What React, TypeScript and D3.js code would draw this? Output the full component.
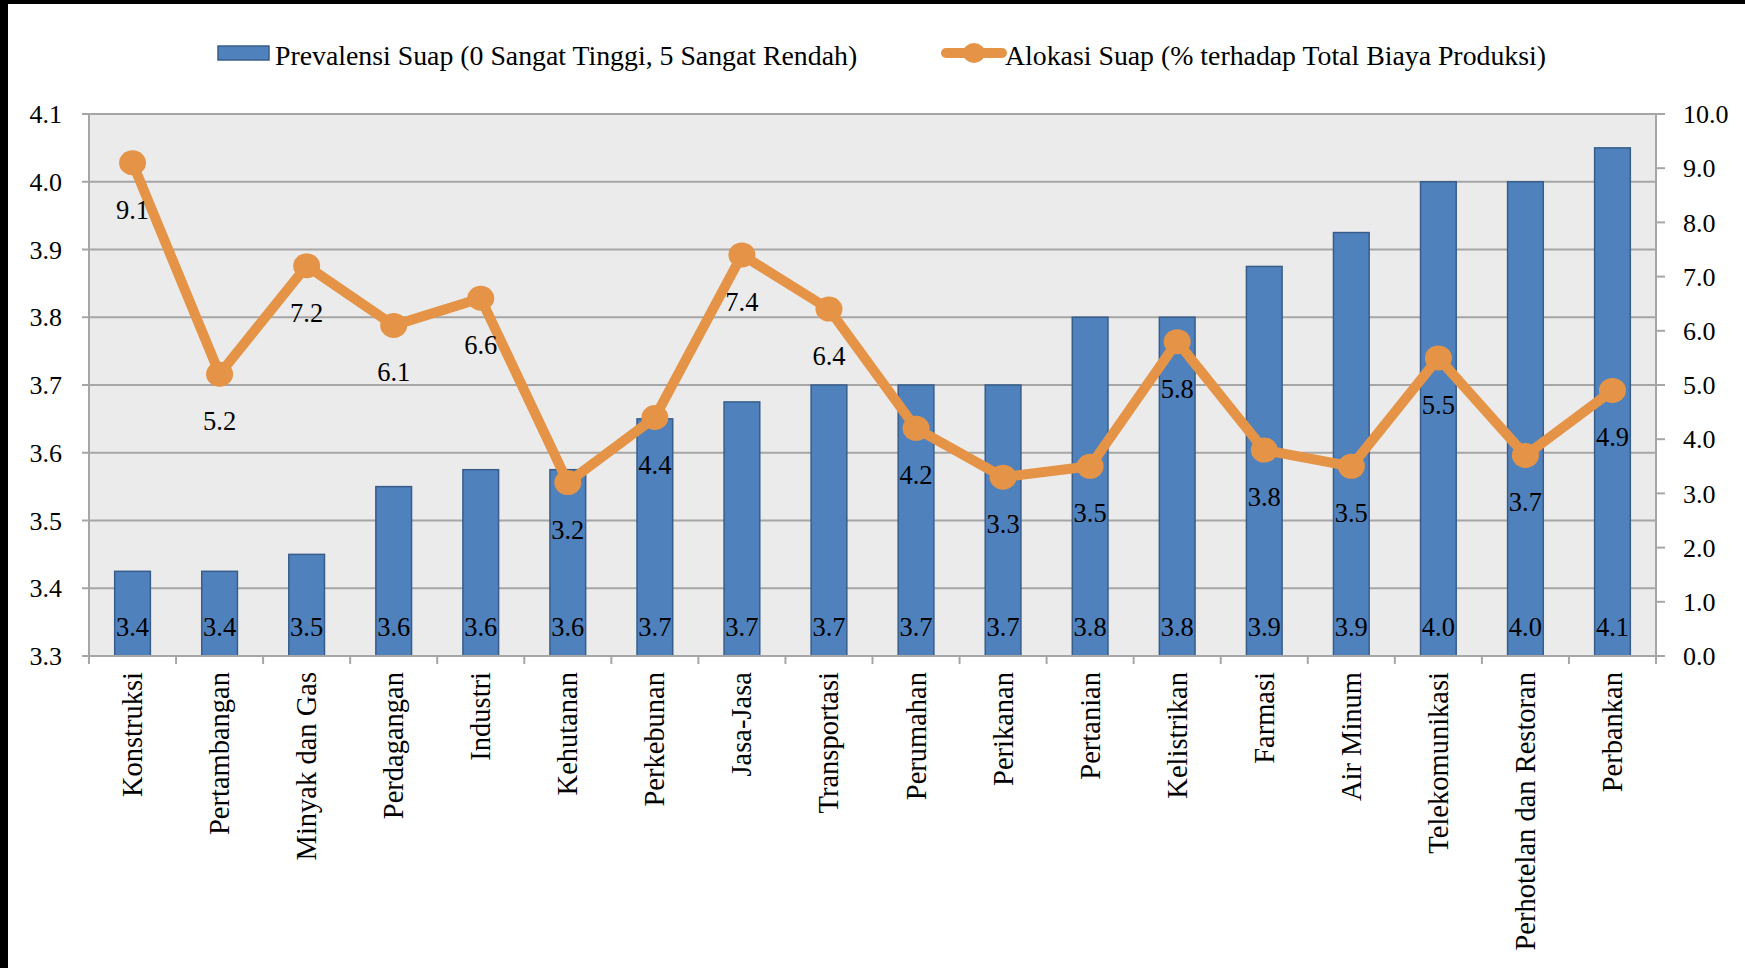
import { scaleBand, scaleLinear, line } from "d3";

const categories = [
  "Konstruksi", "Pertambangan", "Minyak dan Gas", "Perdagangan", "Industri",
  "Kehutanan", "Perkebunan", "Jasa-Jasa", "Transportasi", "Perumahan",
  "Perikanan", "Pertanian", "Kelistrikan", "Farmasi", "Air Minum",
  "Telekomunikasi", "Perhotelan dan Restoran", "Perbankan",
];
// Prevalensi Suap (left axis)
const prevalensi = [
  3.425, 3.425, 3.45, 3.55, 3.575, 3.575, 3.65, 3.675, 3.7, 3.7,
  3.7, 3.8, 3.8, 3.875, 3.925, 4.0, 4.0, 4.05,
];
// Alokasi Suap (right axis)
const alokasi = [
  9.1, 5.2, 7.2, 6.1, 6.6, 3.2, 4.4, 7.4, 6.4, 4.2,
  3.3, 3.5, 5.8, 3.8, 3.5, 5.5, 3.7, 4.9,
];
const leftTicks = [3.3, 3.4, 3.5, 3.6, 3.7, 3.8, 3.9, 4.0, 4.1];
const rightTicks = [0, 1, 2, 3, 4, 5, 6, 7, 8, 9, 10];

const W = 1745;
const H = 968;
const plot = { left: 89, right: 1656, top: 114, bottom: 656 };
const FONT = "'Liberation Serif', 'Times New Roman', serif";
const BAR = "#4F81BD";
const BAR_EDGE = "#385D8A";
const ORANGE = "#E59447";
const GRID = "#A6A6A6";

const fmt = (v: number) => (Math.round(v * 10 + 1e-6) / 10).toFixed(1);

export default function App() {
  const x = scaleBand<string>()
    .domain(categories)
    .range([plot.left, plot.right])
    .padding(0);
  const yL = scaleLinear().domain([3.3, 4.1]).range([plot.bottom, plot.top]);
  const yR = scaleLinear().domain([0, 10]).range([plot.bottom, plot.top]);
  const bw = x.bandwidth() * 0.41;
  const cx = (c: string) => (x(c) ?? 0) + x.bandwidth() / 2;

  const pts = categories.map((c, i) => [cx(c), yR(alokasi[i])] as [number, number]);
  const linePath = line()(pts) || "";

  const boundaries = categories.map((c) => x(c) ?? 0).concat([plot.right]);

  return (
    <svg
      width={W}
      height={H}
      style={{ position: "absolute", left: 0, top: 0, background: "#fff" }}
      fontFamily={FONT}
    >
      {/* black strips at the edges of the original image */}
      <rect x={0} y={0} width={W} height={4} fill="#000" />
      <rect x={0} y={0} width={8} height={H} fill="#000" />

      {/* legend */}
      <rect x={218} y={46} width={51} height={14} fill={BAR} stroke={BAR_EDGE} strokeWidth={1.5} />
      <text x={275} y={65} fontSize={27.8} fill="#000">
        Prevalensi Suap (0 Sangat Tinggi, 5 Sangat Rendah)
      </text>
      <line x1={946} x2={1002} y1={53} y2={53} stroke={ORANGE} strokeWidth={10} strokeLinecap="round" />
      <ellipse cx={974} cy={53} rx={11} ry={10} fill={ORANGE} />
      <text x={1005} y={65} fontSize={27.8} fill="#000">
        Alokasi Suap (% terhadap Total Biaya Produksi)
      </text>

      {/* plot background */}
      <rect
        x={plot.left}
        y={plot.top}
        width={plot.right - plot.left}
        height={plot.bottom - plot.top}
        fill="#EBEBEB"
      />

      {/* gridlines and left axis */}
      {leftTicks.map((t) => (
        <g key={"l" + t}>
          <line x1={plot.left - 7} x2={plot.right} y1={yL(t)} y2={yL(t)} stroke={GRID} strokeWidth={2} />
          <text x={62} y={yL(t)} dy="0.35em" textAnchor="end" fontSize={26}>
            {t.toFixed(1)}
          </text>
        </g>
      ))}

      {/* right axis */}
      {rightTicks.map((t) => (
        <g key={"r" + t}>
          <line x1={plot.right} x2={plot.right + 9} y1={yR(t)} y2={yR(t)} stroke={GRID} strokeWidth={2} />
          <text x={1683} y={yR(t)} dy="0.35em" textAnchor="start" fontSize={26}>
            {t.toFixed(1)}
          </text>
        </g>
      ))}

      {/* bars */}
      {categories.map((c, i) => (
        <rect
          key={"b" + c}
          x={cx(c) - bw / 2}
          y={yL(prevalensi[i])}
          width={bw}
          height={plot.bottom - yL(prevalensi[i])}
          fill={BAR}
          stroke={BAR_EDGE}
          strokeWidth={1.5}
        />
      ))}

      {/* axis lines */}
      <line x1={plot.left} x2={plot.left} y1={plot.top} y2={plot.bottom} stroke={GRID} strokeWidth={2} />
      <line x1={plot.right} x2={plot.right} y1={plot.top} y2={plot.bottom} stroke={GRID} strokeWidth={2} />
      <line x1={plot.left} x2={plot.right} y1={plot.bottom} y2={plot.bottom} stroke={GRID} strokeWidth={2} />
      {boundaries.map((b, i) => (
        <line key={"t" + i} x1={b} x2={b} y1={plot.bottom} y2={plot.bottom + 8} stroke={GRID} strokeWidth={2} />
      ))}

      {/* bar labels (inside base) */}
      {categories.map((c, i) => (
        <text key={"bl" + c} x={cx(c)} y={plot.bottom - 20} textAnchor="middle" fontSize={26.5}>
          {fmt(prevalensi[i])}
        </text>
      ))}

      {/* line series */}
      <path d={linePath} fill="none" stroke={ORANGE} strokeWidth={10} strokeLinejoin="round" />
      {pts.map((p, i) => (
        <ellipse key={"m" + i} cx={p[0]} cy={p[1]} rx={13.5} ry={12.5} fill={ORANGE} />
      ))}
      {pts.map((p, i) => (
        <text key={"ml" + i} x={p[0]} y={p[1] + 56} textAnchor="middle" fontSize={26.5}>
          {fmt(alokasi[i])}
        </text>
      ))}

      {/* category labels */}
      {categories.map((c) => (
        <text
          key={"c" + c}
          transform={`translate(${cx(c)},${672}) rotate(-90)`}
          textAnchor="end"
          dominantBaseline="central"
          fontSize={28.5}
        >
          {c}
        </text>
      ))}
    </svg>
  );
}
